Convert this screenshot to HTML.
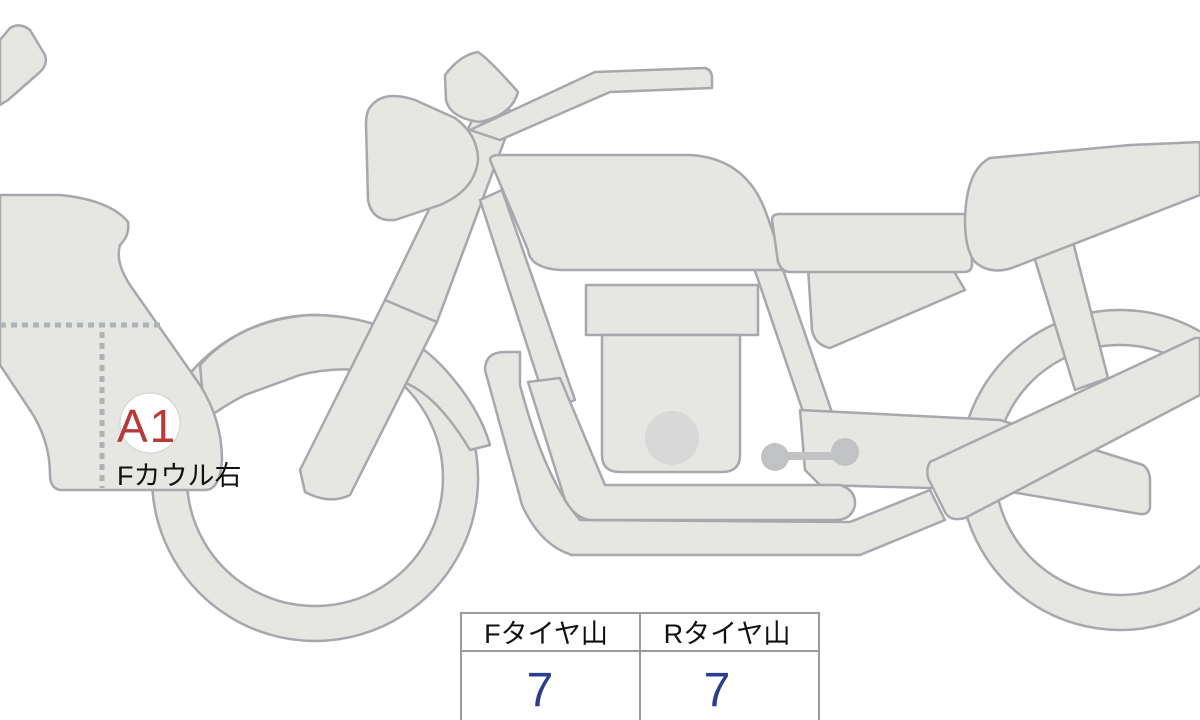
<!DOCTYPE html>
<html><head><meta charset="utf-8"><style>
html,body{margin:0;padding:0;background:#fff;width:1200px;height:720px;overflow:hidden}
svg{display:block}
text{font-family:"Liberation Sans","Noto Sans CJK JP",sans-serif}
</style></head><body>
<svg width="1200" height="720" viewBox="0 0 1200 720" xmlns="http://www.w3.org/2000/svg">
<g fill="#e6e6e3" stroke="#a6a8ab" stroke-width="2.5" stroke-linejoin="round">
<path fill-rule="evenodd" d="M1120,310 a160,160 0 1 0 0.1,0 Z M1120,345 a125,125 0 1 1 -0.1,0 Z"/>
<path fill-rule="evenodd" d="M315,315 a163,163 0 1 0 0.1,0 Z M315,350 a128,128 0 1 1 -0.1,0 Z"/>
<path d="M200,365 Q240,320 310,315 Q400,315 450,375 Q480,410 490,445 L470,450 Q440,400 410,385 Q360,360 300,375 L245,395 Q225,405 205,420 Z"/>
<path d="M0,40 L10,28 Q20,22 30,30 L45,55 Q48,65 40,72 L8,100 L0,105 Z"/>
<path d="M0,195 L60,195 Q110,200 128,222 Q130,235 120,245 Q115,262 130,285 L200,385 Q222,420 222,460 Q220,490 205,490 L60,490 Q50,488 50,475 Q50,440 30,410 L0,365 Z"/>
<path d="M300,470 L385,300 L437,322 L350,495 Q330,505 305,492 Z"/>
<path d="M385,300 L482,100 L515,112 L437,322 Z"/>
<path d="M372,105 Q385,90 415,100 L455,118 Q478,135 478,160 Q475,190 440,205 L395,220 Q372,222 368,200 L366,125 Q366,110 372,105 Z"/>
<path d="M445,75 Q460,55 478,52 Q490,60 518,92 Q512,115 480,122 Q450,118 446,100 Z"/>
<path d="M470,130 L595,72 L705,68 Q712,70 712,78 L712,88 L610,92 L500,140 Z"/>
<path d="M480,200 L502,190 L575,400 L548,410 Z"/>
<path d="M752,262 L778,255 L838,430 L812,438 Z"/>
<path d="M808,268 L952,268 L965,290 L830,348 Q815,345 812,330 Z"/>
<path d="M1032,250 L1072,238 L1108,378 L1075,390 Z"/>
<path d="M800,410 L1000,420 L1143,465 Q1150,470 1150,480 L1150,508 Q1148,515 1140,514 L1000,490 L820,485 L805,470 Z"/>
<path d="M485,370 Q485,352 505,352 L520,352 L520,385 Q545,480 580,520 L850,522 L930,490 L945,520 L860,555 L572,555 Q540,545 522,505 Z"/>
<path d="M528,382 L560,378 L605,485 L840,485 Q856,490 855,505 Q852,520 835,520 L590,520 Q575,518 565,500 Z"/>
<rect x="586" y="285" width="172" height="50"/>
<path d="M602,335 L740,335 L740,455 Q740,472 722,472 L620,472 Q602,472 602,455 Z"/>
<path d="M490,160 Q490,155 500,155 L690,155 Q745,158 765,210 Q780,250 782,270 L560,270 Q530,268 528,250 Z"/>
<path d="M772,220 Q772,214 780,214 L965,214 Q972,214 972,222 L972,264 Q972,272 964,272 L790,272 Q782,272 778,262 Z"/>
<path d="M965,220 Q966,170 990,158 L1130,145 L1200,142 L1200,195 L1012,268 Q990,275 975,262 Q965,250 965,220 Z"/>
<path d="M930,462 L1195,338 L1200,338 L1200,395 L965,518 Q950,522 945,512 L928,478 Q926,468 930,462 Z"/>
</g>
<circle cx="672" cy="438" r="27" fill="#d8d8d9"/>
<g fill="#c1c2c3">
<rect x="775" y="452" width="70" height="8"/>
<circle cx="775" cy="457" r="14"/>
<circle cx="845" cy="452" r="14"/>
</g>
<g stroke="#aeb3b8" stroke-width="5" stroke-dasharray="6 5" fill="none">
<line x1="0" y1="325" x2="165" y2="325"/>
<line x1="102" y1="332" x2="102" y2="488"/>
</g>
<circle cx="150" cy="423" r="30" fill="#fff" stroke="#d0d0d0" stroke-width="1"/>
<text x="117" y="442" font-size="46" fill="#b53a3a" letter-spacing="2">A1</text>
<text x="117" y="485" font-size="27" fill="#111">Fカウル右</text>
<g fill="#fff" stroke="#9a9a9a" stroke-width="2">
<rect x="461" y="613" width="358" height="110"/>
<line x1="461" y1="651" x2="819" y2="651"/>
<line x1="640" y1="613" x2="640" y2="720"/>
</g>
<text x="546" y="643" font-size="27" fill="#111" text-anchor="middle">Fタイヤ山</text>
<text x="727" y="643" font-size="27" fill="#111" text-anchor="middle">Rタイヤ山</text>
<text x="540" y="706" font-size="48" fill="#2a3d8f" text-anchor="middle">7</text>
<text x="717" y="706" font-size="48" fill="#2a3d8f" text-anchor="middle">7</text>
</svg>
</body></html>
